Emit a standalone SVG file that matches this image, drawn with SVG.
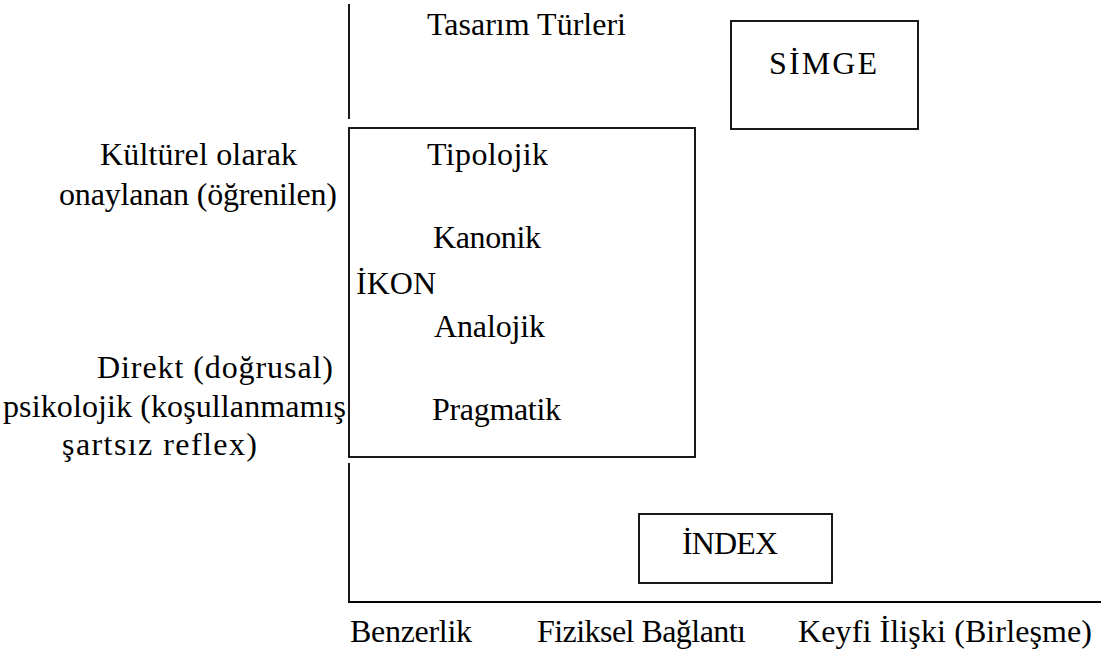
<svg xmlns="http://www.w3.org/2000/svg" width="1108" height="652" viewBox="0 0 1108 652">
<style>
text{font-family:"Liberation Serif","Times New Roman",serif;font-size:32px;fill:#000}
.ln{stroke:#000;stroke-width:1.8;fill:none}
.box{stroke:#000;stroke-width:1.8;fill:none}
</style>
<rect width="1108" height="652" fill="#fff"/>
<g id="axes">
<line class="ln" x1="349" y1="4" x2="349" y2="119"/>
<line class="ln" x1="349" y1="463" x2="349" y2="602"/>
<line class="ln" x1="348" y1="602" x2="1101" y2="602"/>
</g>
<g id="title"><text x="427" y="35" textLength="199" lengthAdjust="spacing">Tasarım Türleri</text></g>
<g id="ikon">
<rect class="box" x="349" y="128" width="346" height="329"/>
<text x="427" y="165" textLength="121" lengthAdjust="spacing">Tipolojik</text>
<text x="433" y="248" textLength="108" lengthAdjust="spacing">Kanonik</text>
<text x="356" y="294" textLength="80" lengthAdjust="spacing">İKON</text>
<text x="434" y="337" textLength="111" lengthAdjust="spacing">Analojik</text>
<text x="432" y="420" textLength="129" lengthAdjust="spacing">Pragmatik</text>
</g>
<g id="simge">
<rect class="box" x="731" y="21" width="187" height="108"/>
<text x="769" y="74" textLength="108" lengthAdjust="spacing">SİMGE</text>
</g>
<g id="index">
<rect class="box" x="639" y="514" width="193" height="69"/>
<text x="682" y="554" textLength="96" lengthAdjust="spacing">İNDEX</text>
</g>
<g id="left-labels">
<text x="100" y="165" textLength="197" lengthAdjust="spacing">Kültürel olarak</text>
<text x="59" y="205" textLength="278" lengthAdjust="spacing">onaylanan (öğrenilen)</text>
<text x="97" y="378" textLength="236" lengthAdjust="spacing">Direkt (doğrusal)</text>
<text x="3" y="417" textLength="343" lengthAdjust="spacing">psikolojik (koşullanmamış</text>
<text x="62" y="455" textLength="195" lengthAdjust="spacing">şartsız reflex)</text>
</g>
<g id="bottom-labels">
<text x="350" y="642" textLength="122" lengthAdjust="spacing">Benzerlik</text>
<text x="537" y="642" textLength="209" lengthAdjust="spacing">Fiziksel Bağlantı</text>
<text x="798" y="642" textLength="294" lengthAdjust="spacing">Keyfi İlişki (Birleşme)</text>
</g>
</svg>
